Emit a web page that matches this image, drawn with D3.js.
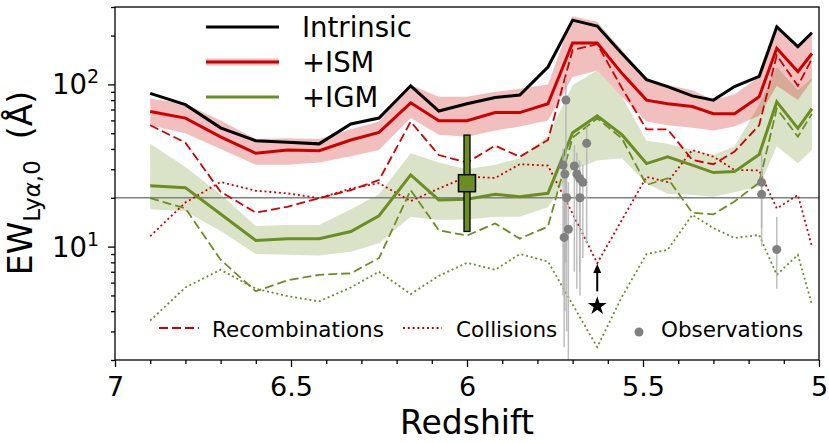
<!DOCTYPE html>
<html><head><meta charset="utf-8">
<script src="https://cdn.jsdelivr.net/npm/d3@7"></script>
<style>body{margin:0;background:#fff} svg text{font-family:"DejaVu Sans",sans-serif;fill:#000}</style>
</head><body>
<svg id="c" width="829" height="443"></svg>
<script>
// ---------- data ----------
const redshift = [6.90, 6.80, 6.70, 6.60, 6.51, 6.42, 6.33, 6.25, 6.16, 6.08, 6.00, 5.92, 5.85, 5.77, 5.70, 5.63, 5.56, 5.49, 5.43, 5.36, 5.30, 5.24, 5.17, 5.12, 5.06, 5.02];
const intrinsic = [88, 75, 54, 45, 44, 43, 57, 62, 98, 68.5, 76, 83, 86, 128, 249, 229, 155, 107, 97, 85, 80, 97, 112, 226, 171, 208];
const ism   = [68, 62, 47.5, 37.6, 39.4, 39, 45.4, 50.6, 77, 59.7, 59.7, 67, 67, 76, 180, 180, 117, 80, 76, 73, 66, 66, 84, 167, 120, 155];
const ismLo = [56, 50, 40, 32, 32, 33, 36, 39.4, 62, 49, 47.6, 52, 55, 60, 111, 122, 84, 59, 56, 54, 52, 55, 64, 98, 80, 106];
const ismHi = [82, 76, 60, 46, 46.5, 46, 53, 59, 99, 84, 84, 90, 94, 100, 263, 243, 163, 108, 99, 92, 80, 87, 111, 235, 174, 211];
const igm   = [23.7, 23.1, 15.9, 10.9, 11.2, 11.2, 12.4, 15.5, 27.7, 19.4, 19.6, 21, 20.3, 21.3, 50.4, 64, 49, 32.5, 35.8, 31.8, 28.6, 29, 37, 78, 53.6, 71];
const igmLo = [17, 16.5, 12.5, 9.0, 8.9, 8.8, 9.3, 10.5, 15.3, 14.6, 14.7, 15.3, 15.3, 17.5, 29.7, 34, 35, 24.5, 21.2, 20.8, 20.3, 21.6, 23.5, 41.5, 32.6, 39.4];
const igmHi = [43, 31, 21, 13.4, 13.6, 13.6, 17, 21, 37.6, 33, 30, 32, 35, 48, 99, 122, 84, 45, 43, 39.4, 36.7, 41.5, 75, 128, 92, 109];
const recISM = [56, 43.7, 21.8, 16.2, 17.6, 19.9, 22.3, 25.7, 58.9, 36.7, 33, 41.9, 35.8, 45.4, 163, 177, 95, 52.8, 52.8, 34.2, 32.2, 38.5, 56, 151, 98, 144];
const colISM = [11.6, 18.7, 25, 22.1, 21.3, 19.9, 22.8, 24.6, 19.1, 22.8, 27, 26.5, 32.2, 31.6, 16, 7.9, 14.6, 26.9, 25, 39.4, 35.8, 29.7, 29.5, 17.2, 20.8, 10];
const recIGM = [19.9, 17.2, 8.3, 5.3, 6.2, 6.7, 6.85, 8.5, 22.3, 12.6, 11.7, 13.9, 11.2, 13.3, 47, 61.7, 46.5, 24, 26.4, 16.2, 15.8, 19, 24.8, 71, 47.6, 66];
const colIGM = [3.5, 5.6, 7.2, 5.5, 4.95, 4.6, 5.6, 7.0, 5.1, 6.6, 7.95, 7.2, 9.0, 8.1, 4.4, 2.4, 4.9, 9.0, 9.55, 15.7, 13, 11.3, 11.8, 6.7, 8.9, 4.4];

const obsZ  = [5.719, 5.660, 5.727, 5.722, 5.695, 5.688, 5.680, 5.671, 5.717, 5.679, 5.712, 5.724, 5.163, 5.163, 5.120];
const obsEW = [80, 43.3, 31.8, 28, 31.4, 28, 26.3, 24.9, 20, 20, 12.8, 11.4, 24.9, 21, 9.6];
const obsLo = [8, 10.5, 5, 4, 7, 5.5, 7, 8.5, 3, 5, 2, 2.4, 13, 10, 5.5];
const obsHi = [110, 55, 40, 36, 42, 38, 34, 32, 28, 30, 25, 22, 38, 30, 15.3];

const stackZ = [6.0], stackEW = [24.6], stackLo = [12.4], stackHi = [48.7];
const starZ = [5.63], starEW = [4.3], arrowFrom = [5.3], arrowTo = [7.8];
const refLine = 20;

const xTicksMajor = [7, 6.5, 6, 5.5, 5];
const xTickLabels = ["7", "6.5", "6", "5.5", "5"];
const yTicksMajor = [10, 100];
const yTickExp = ["1", "2"];
const legendTop = ["Intrinsic", "+ISM", "+IGM"];
const legendBottom = ["Recombinations", "Collisions", "Observations"];

// ---------- chart ----------
const RED = "#cc0000", GREEN = "#6b8e23", GRAY = "#808080";
const L = 115, R = 819, T = 7, B = 360;
const x = d3.scaleLinear().domain([7, 5]).range([L, R]);
const y = d3.scaleLog().domain([2, 300]).range([B, T]);
const svg = d3.select("#c");

svg.append("clipPath").attr("id", "clip").append("rect")
  .attr("x", L).attr("y", T).attr("width", R - L).attr("height", B - T);
const g = svg.append("g").attr("clip-path", "url(#clip)");

const idx = d3.range(redshift.length);
const band = (lo, hi) => d3.area().x(i => x(redshift[i])).y0(i => y(lo[i])).y1(i => y(hi[i]))(idx);
const path = (arr) => d3.line().x(i => x(redshift[i])).y(i => y(arr[i]))(idx);

// bands
g.append("path").attr("d", band(igmLo, igmHi)).attr("fill", GREEN).attr("fill-opacity", 0.25);
g.append("path").attr("d", band(ismLo, ismHi)).attr("fill", RED).attr("fill-opacity", 0.25);

// reference line
g.append("line").attr("x1", L).attr("x2", R).attr("y1", y(refLine)).attr("y2", y(refLine))
  .attr("stroke", GRAY).attr("stroke-width", 1.5);

const DASH = "9,4", DOT = "2,2.8";
// components
[[recISM, RED, DASH], [colISM, RED, DOT], [recIGM, GREEN, DASH], [colIGM, GREEN, DOT]].forEach(([a, c, d]) => {
  g.append("path").attr("d", path(a)).attr("fill", "none").attr("stroke", c)
    .attr("stroke-width", 1.8).attr("stroke-dasharray", d);
});

// main lines
[[intrinsic, "#000"], [ism, RED], [igm, GREEN]].forEach(([a, c]) => {
  g.append("path").attr("d", path(a)).attr("fill", "none").attr("stroke", c)
    .attr("stroke-width", 3).attr("stroke-linejoin", "miter");
});

// observations
obsZ.forEach((z, i) => {
  g.append("line").attr("x1", x(z)).attr("x2", x(z)).attr("y1", y(obsLo[i])).attr("y2", y(obsHi[i]))
    .attr("stroke", "#b3b3b3").attr("stroke-width", 1.5).attr("stroke-opacity", 0.85);
});
obsZ.forEach((z, i) => {
  g.append("circle").attr("cx", x(z)).attr("cy", y(obsEW[i])).attr("r", 4.5).attr("fill", GRAY);
});

// stacked point
stackZ.forEach((z, i) => {
  g.append("rect").attr("x", x(z) - 3).attr("width", 6).attr("y", y(stackHi[i]))
    .attr("height", y(stackLo[i]) - y(stackHi[i])).attr("fill", GREEN).attr("stroke", "#000").attr("stroke-width", 1.3);
  g.append("rect").attr("x", x(z) - 8.5).attr("y", y(stackEW[i]) - 8.5).attr("width", 17).attr("height", 17)
    .attr("fill", GREEN).attr("stroke", "#000").attr("stroke-width", 1.5);
});

// star and arrow
starZ.forEach((z, i) => {
  const xs = x(z), y0 = y(arrowFrom[i]), y1 = y(arrowTo[i]);
  g.append("line").attr("x1", xs).attr("x2", xs).attr("y1", y0).attr("y2", y1 + 7)
    .attr("stroke", "#000").attr("stroke-width", 2);
  g.append("path").attr("d", `M${xs},${y1}L${xs - 4},${y1 + 9}L${xs + 4},${y1 + 9}Z`).attr("fill", "#000");
  g.append("path").attr("d", d3.symbol().type(d3.symbolStar).size(110)())
    .attr("transform", `translate(${xs},${y(starEW[i])})`).attr("fill", "#000");
});

// frame
svg.append("rect").attr("x", L).attr("y", T).attr("width", R - L).attr("height", B - T)
  .attr("fill", "none").attr("stroke", "#000").attr("stroke-width", 1.3);

// x axis
const xMinor = d3.range(50, 71).map(v => v / 10).filter(v => !xTicksMajor.some(m => Math.abs(m - v) < 1e-6));
const xa = svg.append("g").attr("transform", `translate(0,${B})`);
xa.call(d3.axisBottom(x).tickValues(xMinor).tickSize(4).tickFormat(""));
xa.append("g").call(d3.axisBottom(x).tickValues(xTicksMajor).tickSize(7).tickFormat((d, i) => xTickLabels[i]));
xa.selectAll(".domain").remove();
xa.selectAll("line").attr("stroke", "#000").attr("stroke-width", 1.3);
xa.selectAll("text").attr("y", 36).attr("dy", 0).style("font-size", "27px").style("font-family", "DejaVu Sans").attr("fill", "#000");

// y axis
const yMinor = [2,3,4,5,6,7,8,9,20,30,40,50,60,70,80,90,200,300];
const ya = svg.append("g").attr("transform", `translate(${L},0)`);
ya.call(d3.axisLeft(y).tickValues(yMinor).tickSize(4).tickFormat(""));
ya.append("g").call(d3.axisLeft(y).tickValues(yTicksMajor).tickSize(7).tickFormat(""));
ya.selectAll(".domain").remove();
ya.selectAll("line").attr("stroke", "#000").attr("stroke-width", 1.3);
yTicksMajor.forEach((v, i) => {
  const t = svg.append("text").attr("x", 99).attr("y", y(v) + 10).attr("text-anchor", "end").style("font-size", "27.5px");
  t.append("tspan").text("10");
  t.append("tspan").attr("dy", -11).style("font-size", "19px").text(yTickExp[i]);
});

// axis labels
svg.append("text").attr("x", (L + R) / 2).attr("y", 434).attr("text-anchor", "middle")
  .style("font-size", "33px").text("Redshift");
const yl = svg.append("text").attr("transform", "translate(32,183) rotate(-90)").attr("text-anchor", "middle")
  .style("font-size", "33px");
yl.append("tspan").text("EW");
yl.append("tspan").attr("dy", 8).style("font-size", "23px").text("Ly");
yl.append("tspan").style("font-size", "23px").style("font-style", "italic").text("α");
yl.append("tspan").style("font-size", "23px").text(",0");
yl.append("tspan").attr("dy", -8).attr("xml:space", "preserve").text("\u00a0\u00a0(Å)");

// top legend
const legY = [27, 62, 97], legC = ["#000", RED, GREEN];
svg.append("rect").attr("x", 206).attr("y", legY[1] - 3.5).attr("width", 73).attr("height", 7)
  .attr("fill", RED).attr("fill-opacity", 0.25);
legendTop.forEach((s, i) => {
  svg.append("line").attr("x1", 206).attr("x2", 279).attr("y1", legY[i]).attr("y2", legY[i])
    .attr("stroke", legC[i]).attr("stroke-width", 3);
  svg.append("text").attr("x", 302).attr("y", legY[i] + 10).style("font-size", "27.5px").text(s);
});

// bottom legend
svg.append("line").attr("x1", 159).attr("x2", 199).attr("y1", 328).attr("y2", 328)
  .attr("stroke", RED).attr("stroke-width", 1.8).attr("stroke-dasharray", DASH);
svg.append("text").attr("x", 212).attr("y", 336.5).style("font-size", "21.5px").text(legendBottom[0]);
svg.append("line").attr("x1", 403).attr("x2", 442).attr("y1", 328).attr("y2", 328)
  .attr("stroke", RED).attr("stroke-width", 1.8).attr("stroke-dasharray", DOT);
svg.append("text").attr("x", 456).attr("y", 336.5).style("font-size", "21.5px").text(legendBottom[1]);
svg.append("circle").attr("cx", 639).attr("cy", 332).attr("r", 4.5).attr("fill", GRAY);
svg.append("text").attr("x", 661).attr("y", 336.5).style("font-size", "21.5px").text(legendBottom[2]);
</script>
</body></html>
